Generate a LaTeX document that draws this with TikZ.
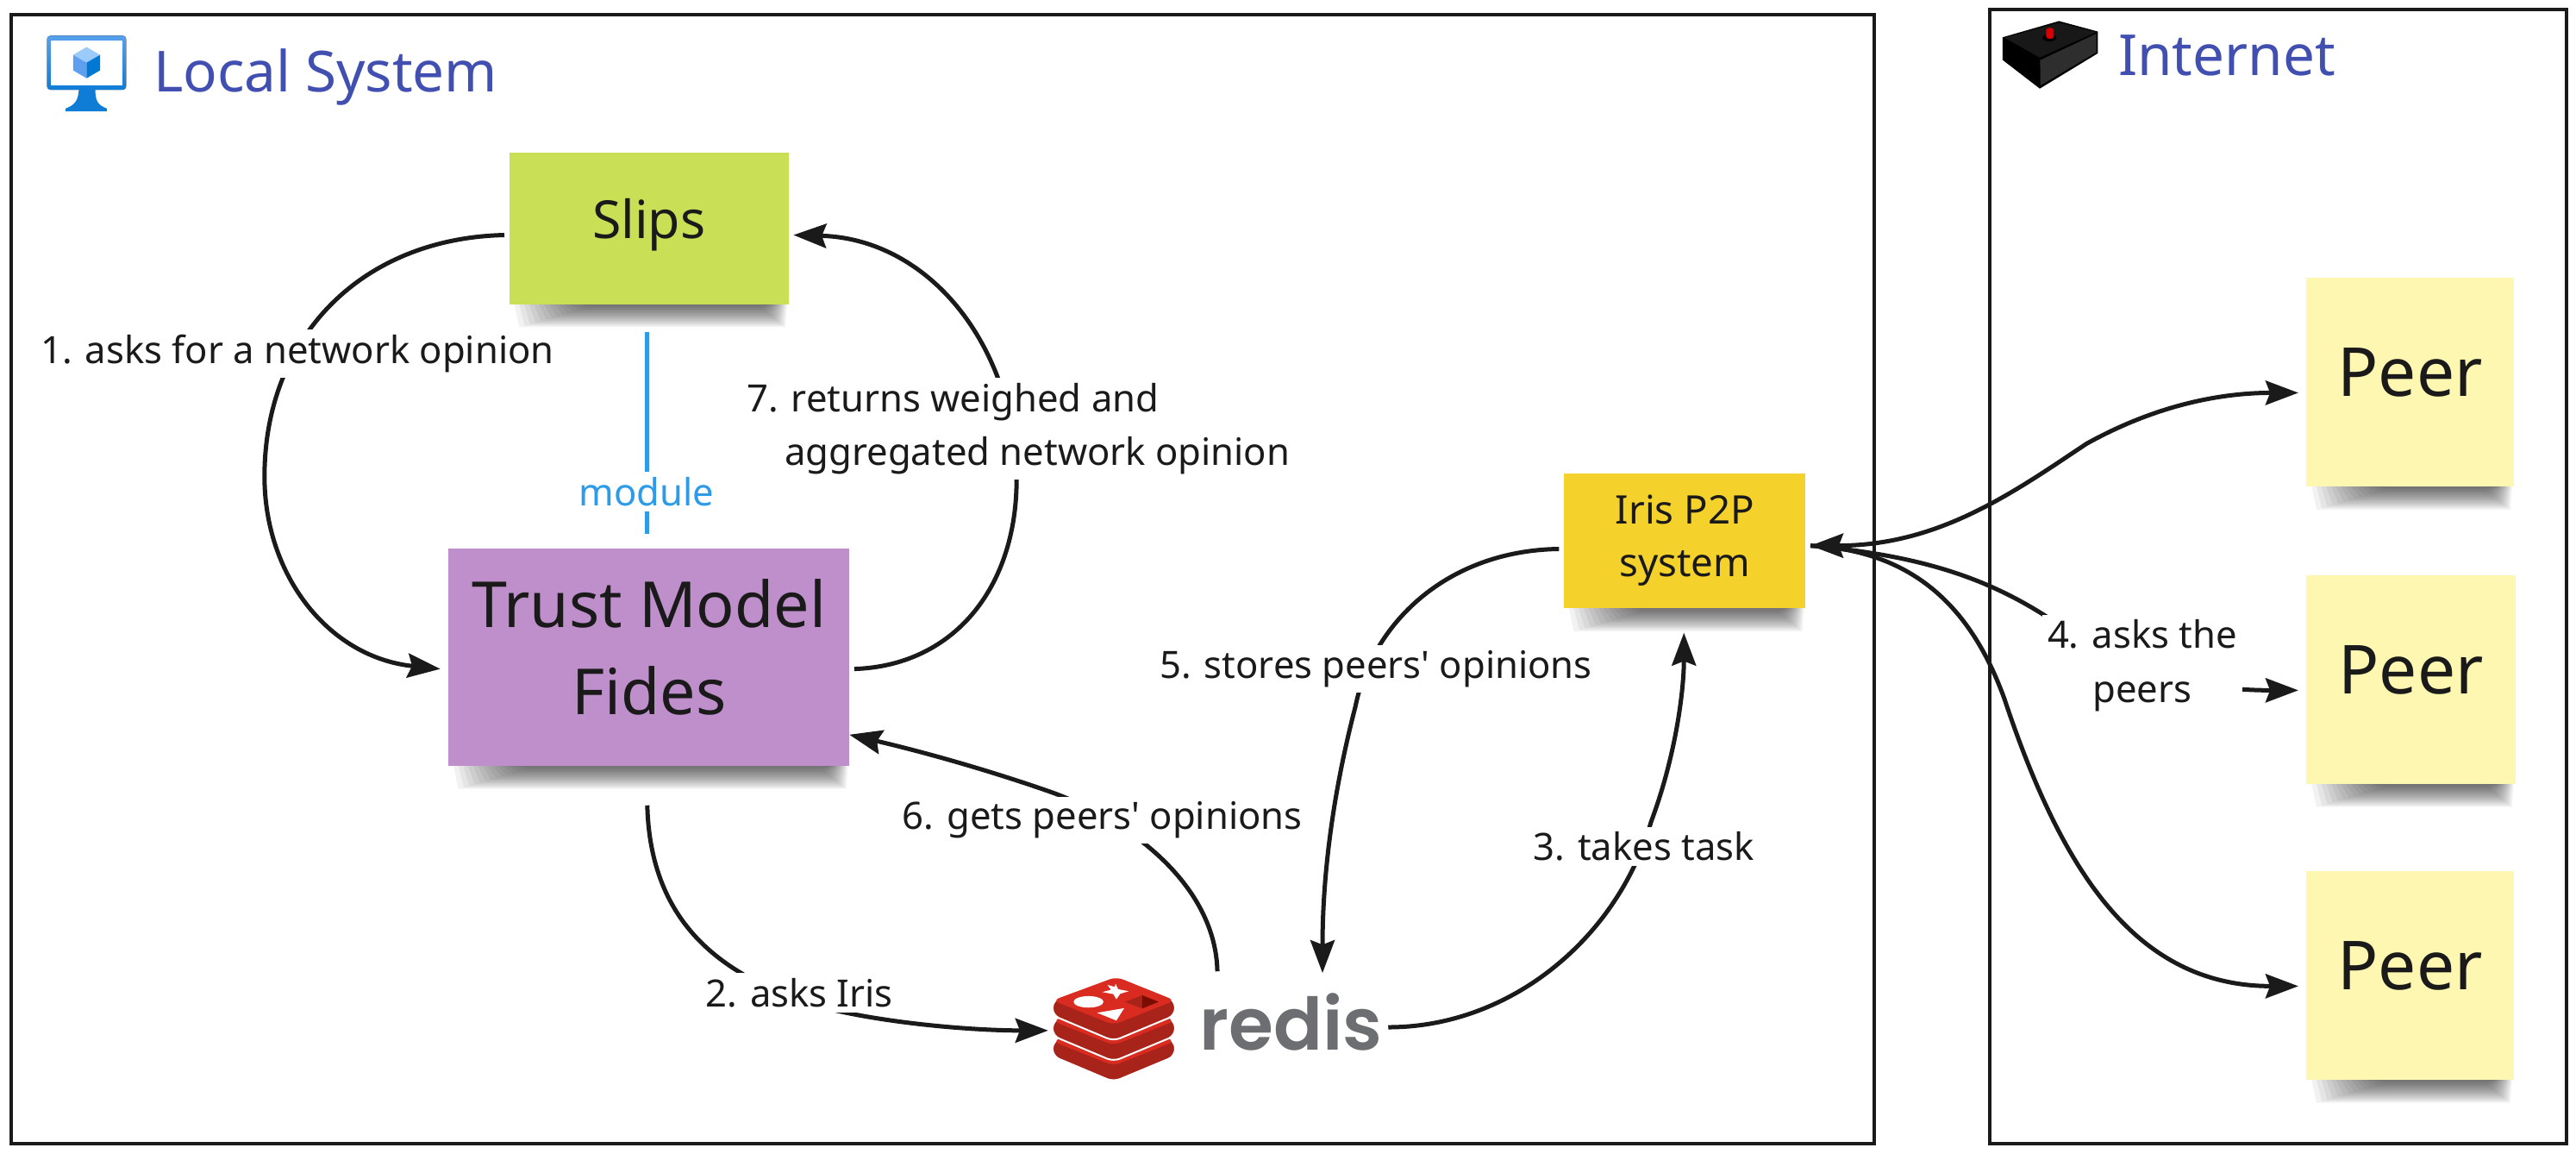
\documentclass[tikz,border=0pt]{standalone}
\usepackage{fontspec}
\setmainfont{Noto Sans}
\newfontfamily\plainfont{Noto Sans}
\newfontfamily\redisfont{Poppins SemiBold}
\usetikzlibrary{arrows.meta}
\definecolor{inkc}{HTML}{1A1A1A}
\definecolor{headc}{HTML}{414FB0}
\definecolor{slipsc}{HTML}{C9DF56}
\definecolor{trustc}{HTML}{BE8FCB}
\definecolor{irisc}{HTML}{F5D12B}
\definecolor{peerc}{HTML}{FEF7B1}
\definecolor{modc}{HTML}{2D9BE8}
\definecolor{redisA}{HTML}{D92B20}
\definecolor{redisB}{HTML}{A8231A}
\definecolor{redisC}{HTML}{7A0C00}
\definecolor{redisG}{HTML}{6D6E71}
\definecolor{monA}{HTML}{56A0EE}
\definecolor{monB}{HTML}{0F7CD6}
\definecolor{cubeA}{HTML}{9CCBFB}
\definecolor{cubeB}{HTML}{5EA0EF}
\definecolor{cubeC}{HTML}{0078D4}
\definecolor{boxA}{HTML}{181818}
\definecolor{boxB}{HTML}{2E2E2E}
\definecolor{ledc}{HTML}{D70000}
\def\uu{0.4764pt}
\newcommand{\noteshadow}[3]{%
  \foreach \i in {0,...,13}{
    \fill[black,opacity=.05] ({#1+3+3*\i},#3) -- ({#2-1-.8*\i},#3) -- ({#2-2-1.2*\i},{#3+14-.95*\i}) -- ({#1+6+3.3*\i},{#3+14-.95*\i}) -- cycle;
  }}
\tikzset{
  x=0.4764pt,y=-0.4764pt,
  frame/.style={draw=inkc,line width=1pt,fill=none},
  notebox/.style={inner sep=0pt,text=inkc,align=center},
  conn/.style={draw=inkc,line width=1.25pt,line cap=butt},
  tipend/.style={conn,-{Stealth[length=9.5pt,width=7pt,inset=1.3pt]}},
  tipboth/.style={conn,{Stealth[length=9.5pt,width=7pt,inset=1.3pt]}-{Stealth[length=9.5pt,width=7pt,inset=1.3pt]}},
  edgelabel/.style={fill=white,inner sep=1.5pt,text=inkc,font=\plainfont\fontsize{10.9pt}{15.6pt}\selectfont,align=center},
  headtext/.style={text=headc,inner sep=0pt,anchor=base west,font=\fontsize{16.4pt}{20pt}\selectfont},
}
\begin{document}
\begin{tikzpicture}
\useasboundingbox (0,0) rectangle (1568,702.1);
\fill[white] (0,0) rectangle (1568,702.1);
% frames
\node[frame,minimum width=1134*\uu,minimum height=687*\uu,inner sep=0pt] (localbox) at (574,352.5) {};
\node[frame,minimum width=351*\uu,minimum height=690*\uu,inner sep=0pt] (netbox) at (1386.5,351) {};
\node[headtext] (localtitle) at (93,56) {Local System};
\node[headtext] (nettitle) at (1289,46) {Internet};
% monitor icon
\fill[top color=monA,bottom color=monB,rounded corners=1pt] (28.6,21.7) rectangle (76.8,54.6);
\fill[white] (31,24.5) rectangle (74.5,52);
\fill[monB] (48,54.6) -- (58,54.6) .. controls (58,62) and (60,64) .. (65,66) -- (65,67.7) -- (40,67.7) -- (40,66) .. controls (45,64) and (47.5,62) .. (48,54.6) -- cycle;
\fill[cubeA] (52.7,28.6) -- (60.9,33.4) -- (52.7,38.1) -- (44.5,33.4) -- cycle;
\fill[cubeB] (44.5,33.4) -- (52.7,38.1) -- (52.7,47.6) -- (44.5,42.8) -- cycle;
\fill[cubeC] (60.9,33.4) -- (52.7,38.1) -- (52.7,47.6) -- (60.9,42.8) -- cycle;
% internet icon
\fill[black] (1218.9,22.7) -- (1253.3,12.8) -- (1277,19.2) -- (1277,32.4) -- (1241.6,53.9) -- (1218.9,36.4) -- cycle;
\fill[boxA] (1220,22.9) -- (1253.3,13.8) -- (1276,19.5) -- (1241.6,35) -- cycle;
\fill[boxB] (1241.8,36.6) -- (1276,20.5) -- (1276,31.8) -- (1242,52) -- cycle;
\fill[black] (1247.5,23) ellipse (4.2 and 2.2);
\fill[ledc,rounded corners=0.8pt] (1245.4,17) rectangle (1250.2,23.5);
% note shadows
\noteshadow{310}{480}{185}
\noteshadow{273}{517}{466}
\noteshadow{952}{1099}{370}
\noteshadow{1404}{1530}{296}
\noteshadow{1404}{1531}{477}
\noteshadow{1404}{1530}{657}
% notes
\node[notebox,fill=slipsc,minimum width=170*\uu,minimum height=92*\uu,text depth=5.5pt,font=\fontsize{15.2pt}{20pt}\selectfont] (slips) at (395,139) {Slips};
\node[notebox,fill=trustc,minimum width=244*\uu,minimum height=132*\uu,text depth=6.2pt,font=\fontsize{18.4pt}{25.2pt}\selectfont] (trust) at (395,400) {Trust Model\\Fides};
\node[notebox,fill=irisc,minimum width=147*\uu,minimum height=82*\uu,font=\fontsize{11.4pt}{15.2pt}\selectfont] (iris) at (1025.5,329) {Iris P2P\\system};
\node[notebox,fill=peerc,minimum width=126*\uu,minimum height=127*\uu,text depth=5.7pt,font=\fontsize{19.6pt}{24pt}\selectfont] (peerA) at (1467,232.5) {Peer};
\node[notebox,fill=peerc,minimum width=127*\uu,minimum height=127*\uu,text depth=5.7pt,font=\fontsize{19.6pt}{24pt}\selectfont] (peerB) at (1467.5,413.5) {Peer};
\node[notebox,fill=peerc,minimum width=126*\uu,minimum height=127*\uu,text depth=5.7pt,font=\fontsize{19.6pt}{24pt}\selectfont] (peerC) at (1467,593.5) {Peer};
% redis logo
\begin{scope}[shift={(619.2,566.7)},x=0.08333pt,y=-0.08333pt]
  \foreach \dy in {142,71,0}{
    \begin{scope}[yshift=-\dy*0.08333pt]
      \filldraw[draw=white,line width=.5pt,fill=redisB,rounded corners=2pt] (123,240) -- (345,158) -- (549,240) -- (549,292) -- (335,381) -- (123,292) -- cycle;
      \fill[redisA,rounded corners=2pt] (123,240) -- (345,158) -- (549,240) -- (335,325) -- cycle;
    \end{scope}
  }
  \fill[white] (342,182) -- (351,201) -- (388,208) -- (358,217) -- (345,236) -- (334,218) -- (296,211) -- (326,203) -- (314,186) -- (339,193) -- cycle;
  \fill[white] (248,245) ellipse (52 and 20);
  \fill[white] (278,283) -- (372,267) -- (345,310) -- cycle;
  \fill[redisB] (375,245) -- (435,222) -- (435,268) -- cycle;
  \fill[redisC] (435,222) -- (492,245) -- (435,268) -- cycle;
\end{scope}
\node[inner sep=0pt,text=redisG,anchor=base,font=\redisfont\fontsize{21pt}{24pt}\selectfont] (redis) at (786,639) {redis};
% connection points
\coordinate (slipsW) at (307,143);
\coordinate (slipsE) at (483,143);
\coordinate (slipsS) at (394,202);
\coordinate (trustN) at (394,325);
\coordinate (trustWa) at (268,407);
\coordinate (trustEa) at (520,407);
\coordinate (trustEb) at (517,447);
\coordinate (trustS) at (394,490);
\coordinate (logoW) at (638,627);
\coordinate (redisTa) at (741,591);
\coordinate (redisTb) at (805,592);
\coordinate (redisE) at (845,625);
\coordinate (irisW) at (949,334);
\coordinate (irisS) at (1025,385);
\coordinate (irisE) at (1102,332);
\coordinate (peerAW) at (1399,239);
\coordinate (peerBW) at (1399,420);
\coordinate (peerCW) at (1399,600);
% connectors
\draw[modc,line width=1.2pt] (slipsS) -- (trustN);
\draw[tipend] (slipsW) .. controls (220,145) and (161,205) .. (161,290) .. controls (161,350) and (200,400) .. (trustWa);
\draw[tipend] (trustEa) .. controls (585,405) and (625,350) .. (618,275) .. controls (610,200) and (560,145) .. (slipsE);
\draw[tipend] (trustS) .. controls (396,570) and (450,595) .. (490,610) .. controls (530,622) and (590,627) .. (logoW);
\draw[tipend] (redisTa) .. controls (740,540) and (690,500) .. (640,482) .. controls (600,468) and (560,457) .. (trustEb);
\draw[tipend] (irisW) .. controls (880,335) and (835,380) .. (825,430) .. controls (812,480) and (805,530) .. (redisTb);
\draw[tipend] (redisE) .. controls (920,625) and (985,570) .. (1005,500) .. controls (1020,460) and (1025,420) .. (irisS);
\draw[tipboth] (irisE) .. controls (1180,332) and (1225,300) .. (1270,270) .. controls (1315,245) and (1355,239) .. (peerAW);
\draw[tipend] (irisE) .. controls (1170,338) and (1215,352) .. (1260,385) .. controls (1290,410) and (1340,420) .. (peerBW);
\draw[tipend] (irisE) .. controls (1165,335) and (1200,370) .. (1220,425) .. controls (1255,530) and (1300,600) .. (peerCW);
% labels
\node[edgelabel] (lab1) at (181,215) {1. asks for a network opinion};
\node[edgelabel,align=left,anchor=west] (lab7) at (451,261) {7. returns weighed and\\\hspace{11pt}aggregated network opinion};
\node[edgelabel,text=modc] (labm) at (393.5,299) {module};
\node[edgelabel] (lab2) at (486.5,604) {2. asks Iris};
\node[edgelabel] (lab3) at (1000.5,515) {3. takes task};
\node[edgelabel] (lab4) at (1304,405) {4. asks the\\peers};
\node[edgelabel] (lab5) at (837.5,407) {5. stores peers' opinions};
\node[edgelabel] (lab6) at (671,499) {6. gets peers' opinions};
\end{tikzpicture}
\end{document}
